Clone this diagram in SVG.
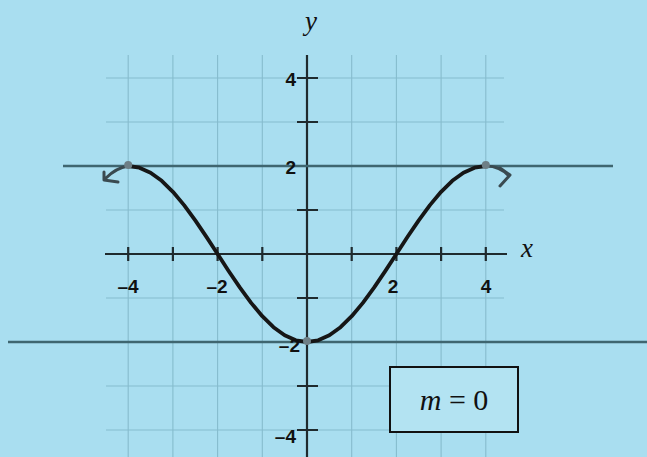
<svg xmlns="http://www.w3.org/2000/svg" width="647" height="457" viewBox="0 0 647 457">
<style>
.grid{stroke:#86bccd;stroke-width:1.1;fill:none}
.axis{stroke:#1f2a2e;stroke-width:2.2;fill:none}
.hline{stroke:#3f6670;stroke-width:2.4;fill:none}
.curve{stroke:#161616;stroke-width:3.8;fill:none;stroke-linejoin:round;stroke-linecap:round}
.arr{stroke:#3a4a50;stroke-width:3;fill:none;stroke-linejoin:round;stroke-linecap:round}
.num{font-family:"Liberation Sans",Arial,sans-serif;font-weight:bold;font-size:19px;fill:#111}
.var{font-family:"Liberation Serif","Times New Roman",serif;font-style:italic;font-size:27px;fill:#111}
</style>
<rect width="647" height="457" fill="#a9def0"/>
<g id="grid" class="grid">
<path d="M128.2 55V457M172.9 55V457M217.6 55V457M262.3 55V457M351.7 55V457M396.4 55V457M441.1 55V457M485.8 55V457"/>
<path d="M106 78H504M106 122H504M106 210H504M106 298H504M106 386H504M106 430H504"/>
</g>
<g id="axes">
<path class="axis" d="M105 254H507M307 55V457"/>
<path class="axis" d="M128.2 247V261M172.9 247V261M217.6 247V261M262.3 247V261M351.7 247V261M396.4 247V261M441.1 247V261M485.8 247V261"/>
<path class="axis" d="M297 78H318M297 122H318M297 166H318M297 210H318M297 298H318M297 342H318M297 386H318M297 430H318"/>
</g>
<g id="lines">
<path class="hline" d="M63 166H613"/>
<path class="hline" d="M8 342H647"/>
</g>
<g id="curve">
<polyline class="curve" points="128.2,166 139.38,167.69 150.55,172.7 161.73,180.83 172.9,191.78 184.08,205.11 195.25,220.32 206.43,236.83 217.6,254 228.78,271.17 239.95,287.68 251.13,302.89 262.3,316.22 273.48,327.17 284.65,335.3 295.83,340.31 307,342 318.18,340.31 329.35,335.3 340.53,327.17 351.7,316.22 362.88,302.89 374.05,287.68 385.23,271.17 396.4,254 407.58,236.83 418.75,220.32 429.93,205.11 441.1,191.78 452.28,180.83 463.45,172.7 474.63,167.69 485.8,166"/>
<path class="arr" d="M128 166Q116 168 106 178M104 172L104 180L118 182"/>
<path class="arr" d="M486 166Q500 166 509 176M500 168L510 175L500 186"/>
<circle cx="128.2" cy="165" r="4" fill="#6e7f86"/>
<circle cx="485.8" cy="165" r="4" fill="#6e7f86"/>
<circle cx="307" cy="341" r="4" fill="#6e7f86"/>
</g>
<g id="labels">
<text class="var" x="305" y="30">y</text>
<text class="var" x="521" y="257">x</text>
<text class="num" x="296" y="86" text-anchor="end">4</text>
<text class="num" x="296" y="174" text-anchor="end">2</text>
<text class="num" x="300" y="352" text-anchor="end">–2</text>
<text class="num" x="296" y="443" text-anchor="end">–4</text>
<text class="num" x="128" y="293" text-anchor="middle">–4</text>
<text class="num" x="217" y="293" text-anchor="middle">–2</text>
<text class="num" x="393" y="293" text-anchor="middle">2</text>
<text class="num" x="486" y="293" text-anchor="middle">4</text>
</g>
<g id="box">
<rect x="390" y="367" width="128" height="65" fill="#b3e3f2" stroke="#111" stroke-width="2"/>
<text x="454" y="410" text-anchor="middle" font-family="'Liberation Serif','Times New Roman',serif" font-size="30" fill="#111"><tspan font-style="italic">m</tspan> = 0</text>
</g>
</svg>
